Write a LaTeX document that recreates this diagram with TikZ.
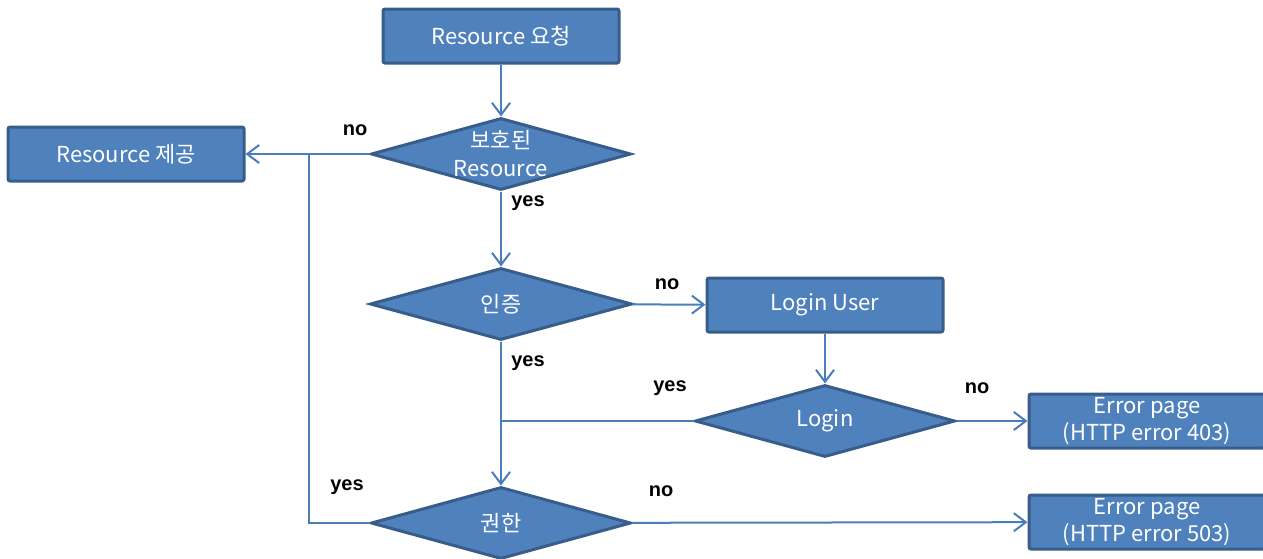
\documentclass[tikz,border=0pt]{standalone}
\usepackage{fontspec}
\setmainfont{Noto Sans CJK KR}
\newfontfamily\answerfont{Liberation Sans}
\usetikzlibrary{shapes.geometric,arrows.meta}

\definecolor{boxblue}{HTML}{4F81BD}
\definecolor{boxedge}{HTML}{385D8A}
\definecolor{linkblue}{HTML}{4A7EBB}

\tikzset{
	procbox/.style={draw=boxedge, fill=boxblue, line width=1.5pt, rounded corners=1pt,
		minimum width=118pt, minimum height=27pt, inner sep=0pt, text=white,
		font=\fontsize{11}{13.5}\selectfont, align=center},
	decision/.style={diamond, draw=boxedge, fill=boxblue, line width=1.5pt,
		minimum width=130pt, minimum height=36pt, inner sep=0pt},
	dtext/.style={text=white, font=\fontsize{11}{14}\selectfont, align=center, inner sep=0pt},
	link/.style={draw=linkblue, line width=1pt, -{Straight Barb[length=6pt,width=9pt]}},
	plain/.style={draw=linkblue, line width=1pt},
	answer/.style={font=\answerfont\bfseries\fontsize{10}{12}\selectfont},
}

\begin{document}
\begin{tikzpicture}[x=0.5pt, y=-0.5pt]
		\useasboundingbox (0,0) rectangle (1263,558);

		\node[procbox] at (501, 36) (req) {Resource 요청};
		\node[decision, label={[dtext]center:{보호된\\Resource}}] at (501, 154) (prot) {};
		\node[procbox] at (126, 154) (give) {Resource 제공};

		\node[decision, minimum width=131pt, label={[dtext]center:{인증}}] at (501, 304) (auth) {};
		\node[procbox] at (825, 305) (user) {Login User};
		\node[decision, label={[dtext]center:{Login}}] at (825, 421) (login) {};
		\node[procbox] at (1147, 421) (err1) {Error page\\(HTTP error 403)};

		\node[decision, label={[dtext]center:{권한}}] at (501, 523) (perm) {};
		\node[procbox] at (1147, 522) (err2) {Error page\\(HTTP error 503)};

		\coordinate (jl) at (309, 154);
		\coordinate (jt) at (501, 421);

		\draw[link] (req) -- (prot);
		\draw[link] (prot) -- (give);
		\draw[link] (prot) -- (auth);
		\draw[link] (auth) -- (user);
		\draw[link] (user) -- (login);
		\draw[link] (login) -- (err1);
		\draw[plain] (login) -- (jt);
		\draw[link] (auth) -- (perm);
		\draw[plain] (perm.west) -| (jl);
		\draw[link] (perm) -- (err2);

		\node[answer] at (355, 130) (a1) {no};
		\node[answer] at (528, 203) (a2) {yes};
		\node[answer] at (667, 284) (a3) {no};
		\node[answer] at (528, 363) (a4) {yes};
		\node[answer] at (670, 388) (a5) {yes};
		\node[answer] at (977, 388) (a6) {no};
		\node[answer] at (347, 487) (a7) {yes};
		\node[answer] at (661, 491) (a8) {no};
\end{tikzpicture}
\end{document}
